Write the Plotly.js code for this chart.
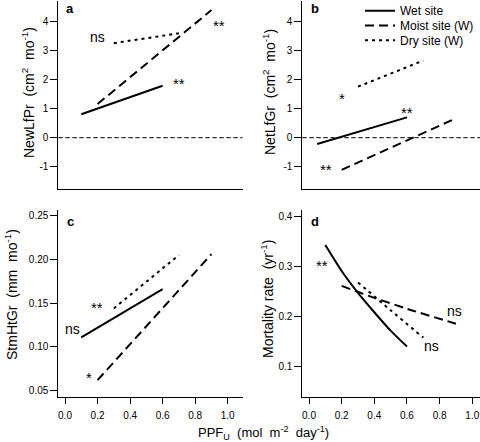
<!DOCTYPE html>
<html>
<head>
<meta charset="utf-8">
<script src="https://cdn.plot.ly/plotly-3.0.1.min.js"></script>
<style>html,body{margin:0;padding:0;background:#fff}#chart{width:480px;height:442px}</style>
</head>
<body>
<div id="chart"></div>
<script>
// ---------- data ----------
// Panel a: NewLfPr
const aWetX = [0.1, 0.6],  aWetY = [0.81, 1.79];
const aMoistX = [0.2, 0.9], aMoistY = [1.16, 4.40];
const aDryX = [0.3, 0.7],  aDryY = [3.26, 3.60];
// Panel b: NetLfGr
const bWetX = [0.05, 0.6], bWetY = [-0.22, 0.70];
const bMoistX = [0.2, 0.9], bMoistY = [-1.11, 0.67];
const bDryX = [0.3, 0.7],  bDryY = [1.76, 2.66];
// Panel c: StmHtGr
const cWetX = [0.1, 0.6],  cWetY = [0.111, 0.166];
const cMoistX = [0.2, 0.9], cMoistY = [0.062, 0.206];
const cDryX = [0.3, 0.7],  cDryY = [0.144, 0.205];
// Panel d: Mortality rate
const dWetX = [0.1, 0.2, 0.3, 0.4, 0.5, 0.6];
const dWetY = [0.343, 0.291, 0.247, 0.208, 0.171, 0.139];
const dMoistX = [0.2, 0.4, 0.6, 0.9], dMoistY = [0.261, 0.237, 0.215, 0.185];
const dDryX = [0.3, 0.5, 0.7], dDryY = [0.268, 0.212, 0.157];

// Significance labels
const sigPanels = ['a','a','a','b','b','b','c','c','c','d','d','d'];
const sigX = [0.2, 0.946, 0.7, 0.2, 0.104, 0.6, 0.195, 0.047, 0.15, 0.078, 0.894, 0.751];
const sigY = [3.48, 3.97, 1.97, 1.47, -1.0, 0.98, 0.149, 0.120, 0.0687, 0.309, 0.211, 0.140];
const sigText = ['ns','**','**','*','**','**','**','ns','*','**','ns','ns'];

const seriesNames = ['Wet site', 'Moist site (W)', 'Dry site (W)'];
const panelLetters = ['a', 'b', 'c', 'd'];
const NB = '\u00A0\u00A0';
const yTitles = [
  'NewLfPr' + NB + '(cm<sup>2</sup>' + NB + 'mo<sup>-1</sup>)',
  'NetLfGr' + NB + '(cm<sup>2</sup>' + NB + 'mo<sup>-1</sup>)',
  'StmHtGr' + NB + '(mm' + NB + 'mo<sup>-1</sup>)',
  'Mortality rate' + NB + '(yr<sup>-1</sup>)'
];
const xTitle = 'PPF<sub>U</sub>\u00A0 (mol\u00A0 m<sup>-2</sup>\u00A0 day<sup>-1</sup>)';

// tick labels
const xTickVals = [0, 0.2, 0.4, 0.6, 0.8, 1.0];
const xTickText = ['0.0', '0.2', '0.4', '0.6', '0.8', '1.0'];
const abTickVals = [-1, 0, 1, 2, 3, 4];
const abTickText = ['-1', '0', '1', '2', '3', '4'];
const cTickVals = [0.05, 0.10, 0.15, 0.20, 0.25];
const cTickText = ['0.05', '0.10', '0.15', '0.20', '0.25'];
const dTickVals = [0.1, 0.2, 0.3, 0.4];
const dTickText = ['0.1', '0.2', '0.3', '0.4'];
const zeroLineY = 0;

// ---------- styling ----------
const FONT = 'Liberation Sans, Arial, Helvetica, sans-serif';
const styles = [
  {color: '#000', width: 2, dash: 'solid'},
  {color: '#000', width: 2, dash: '9px,5px'},
  {color: '#000', width: 2, dash: '3px,4px'}
];
const legendIds = ['legend', 'legend2', 'legend3'];

const panels = [
  {xa: 'x',  ya: 'y',  data: [[aWetX, aWetY], [aMoistX, aMoistY], [aDryX, aDryY]], shape: 'linear'},
  {xa: 'x2', ya: 'y2', data: [[bWetX, bWetY], [bMoistX, bMoistY], [bDryX, bDryY]], shape: 'linear'},
  {xa: 'x3', ya: 'y3', data: [[cWetX, cWetY], [cMoistX, cMoistY], [cDryX, cDryY]], shape: 'linear'},
  {xa: 'x4', ya: 'y4', data: [[dWetX, dWetY], [dMoistX, dMoistY], [dDryX, dDryY]], shape: 'spline'}
];

const traces = [];
panels.forEach((p, pi) => {
  p.data.forEach((d, si) => {
    traces.push({
      type: 'scatter', mode: 'lines',
      x: d[0], y: d[1], xaxis: p.xa, yaxis: p.ya,
      name: seriesNames[si],
      showlegend: pi === 1,
      legend: legendIds[si],
      line: Object.assign({}, styles[si], {shape: p.shape, smoothing: 0.8}),
      hoverinfo: 'skip'
    });
  });
});

const L = 58.3 / 480, R1 = 242.7 / 480, L2 = 302.3 / 480;
const topDom = [1 - 188.5 / 442, 1 - 0.5 / 442];
const botDom = [1 - 397 / 442, 1 - 210 / 442];

function xAxis(domain, range, anchor, labels) {
  return {
    domain: domain, range: range, anchor: anchor,
    showgrid: false, zeroline: false,
    showline: true, linecolor: '#000', linewidth: 1,
    ticks: labels ? 'outside' : '', ticklen: 6, tickwidth: 1, tickcolor: '#000',
    tickvals: labels ? xTickVals : [], ticktext: labels ? xTickText : [],
    showticklabels: labels, ticklabelstandoff: 3,
    tickfont: {family: FONT, size: 10, color: '#000'},
    fixedrange: true
  };
}
function yAxis(domain, range, anchor, vals, text) {
  return {
    domain: domain, range: range, anchor: anchor,
    showgrid: false, zeroline: false,
    showline: true, linecolor: '#000', linewidth: 1,
    ticks: 'outside', ticklen: 7, tickwidth: 1, tickcolor: '#000',
    tickvals: vals, ticktext: text,
    tickfont: {family: FONT, size: 10, color: '#000'},
    fixedrange: true
  };
}

const xRangeL = [-0.0412, 1.0922];
const xRangeR = [-0.041, 1.0472];

function legendAt(topPx) {
  return {
    x: 360 / 480, y: 1 - topPx / 442, xanchor: 'left', yanchor: 'top',
    bgcolor: 'rgba(0,0,0,0)', borderwidth: 0,
    font: {family: FONT, size: 12, color: '#000'},
    itemwidth: 30, tracegroupgap: 0
  };
}

const layout = {
  width: 480, height: 442,
  margin: {l: 0, r: 0, t: 0, b: 0, autoexpand: false},
  paper_bgcolor: '#fff', plot_bgcolor: '#fff',
  font: {family: FONT, size: 12, color: '#000'},
  xaxis:  xAxis([L, R1], xRangeL, 'y', false),
  xaxis2: xAxis([L2, 1], xRangeR, 'y2', false),
  xaxis3: xAxis([L, R1], xRangeL, 'y3', true),
  xaxis4: xAxis([L2, 1], xRangeR, 'y4', true),
  yaxis:  yAxis(topDom, [-1.752, 4.731], 'x', abTickVals, abTickText),
  yaxis2: yAxis(topDom, [-1.752, 4.731], 'x2', abTickVals, abTickText),
  yaxis3: yAxis(botDom, [0.0428, 0.2565], 'x3', cTickVals, cTickText),
  yaxis4: yAxis(botDom, [0.0377, 0.4135], 'x4', dTickVals, dTickText),
  showlegend: true,
  legend: legendAt(-3.7),
  legend2: legendAt(11),
  legend3: legendAt(25.7),
  shapes: [
    {type: 'line', xref: 'x domain', yref: 'y', x0: 0, x1: 1, y0: zeroLineY, y1: zeroLineY,
     line: {color: '#000', width: 1, dash: '4.5px,2.5px'}},
    {type: 'line', xref: 'x2 domain', yref: 'y2', x0: 0, x1: 1, y0: zeroLineY, y1: zeroLineY,
     line: {color: '#000', width: 1, dash: '4.5px,2.5px'}}
  ],
  annotations: []
};

const axMap = {a: ['x', 'y'], b: ['x2', 'y2'], c: ['x3', 'y3'], d: ['x4', 'y4']};
sigText.forEach((t, i) => {
  const ax = axMap[sigPanels[i]];
  const isStar = t.indexOf('*') >= 0;
  layout.annotations.push({
    xref: ax[0], yref: ax[1], x: sigX[i], y: sigY[i], text: t, showarrow: false,
    xanchor: 'center', yanchor: 'middle', yshift: isStar ? -3 : 0,
    font: {family: FONT, size: isStar ? 15 : 14, color: '#000'}
  });
});

const letterPos = [[70, 8.5], [315, 8.5], [70, 221], [315, 221]];
panelLetters.forEach((t, i) => {
  layout.annotations.push({
    xref: 'paper', yref: 'paper', x: letterPos[i][0] / 480, y: 1 - letterPos[i][1] / 442,
    text: '<b>' + t + '</b>', showarrow: false, xanchor: 'center', yanchor: 'middle',
    font: {family: FONT, size: 13, color: '#000'}
  });
});

// y-axis titles (placed as in the reference)
const yTitlePos = [[28, 93], [269, 92], [11, 295], [267, 299]];
yTitles.forEach((t, i) => {
  layout.annotations.push({
    xref: 'paper', yref: 'paper', x: yTitlePos[i][0] / 480, y: 1 - yTitlePos[i][1] / 442,
    text: t, textangle: -90, showarrow: false, xanchor: 'center', yanchor: 'middle',
    font: {family: FONT, size: 14, color: '#000'}
  });
});

// shared x-axis title
layout.annotations.push({
  xref: 'paper', yref: 'paper', x: 263 / 480, y: 1 - 433 / 442,
  text: xTitle, showarrow: false,
  xanchor: 'center', yanchor: 'middle',
  font: {family: FONT, size: 13, color: '#000'}
});

Plotly.newPlot('chart', traces, layout, {displayModeBar: false, staticPlot: true});
</script>
</body>
</html>
